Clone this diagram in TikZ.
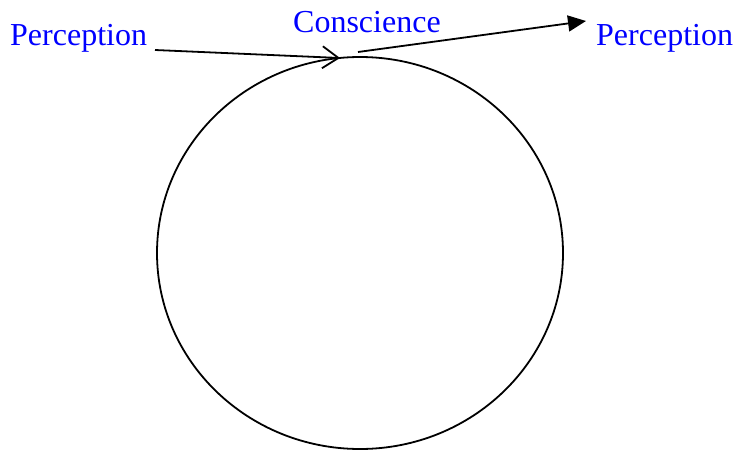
\documentclass[tikz,border=0pt]{standalone}
\usepackage{fontspec}
\setmainfont{Liberation Serif}
\usetikzlibrary{arrows.meta}
\definecolor{lblblue}{RGB}{0,0,255}
\tikzset{
  lbl/.style={text=lblblue, font=\fontsize{32}{38}\selectfont, inner sep=0pt, anchor=base west},
  conn/.style={line width=1.8pt, black},
}
\begin{document}
\begin{tikzpicture}[x=1pt,y=-1pt]
\useasboundingbox (0,0) rectangle (734,450);
\node[lbl] (pl) at (10,45) {Perception};
\node[lbl] (cs) at (293,32) {Conscience};
\node[lbl] (pr) at (596,45) {Perception};
\draw[conn] (360,253) ellipse [x radius=203, y radius=196];
\coordinate (inS) at (155,50);
\coordinate (inE) at (340,58);
\coordinate (outS) at (358,52);
\coordinate (outE) at (586,21);
\draw[conn, -{Straight Barb[length=16pt,width=22pt,line width=1.8pt]}] (inS) -- (inE);
\draw[conn, -{Triangle[length=18pt,width=16pt]}] (outS) -- (outE);
\end{tikzpicture}
\end{document}
